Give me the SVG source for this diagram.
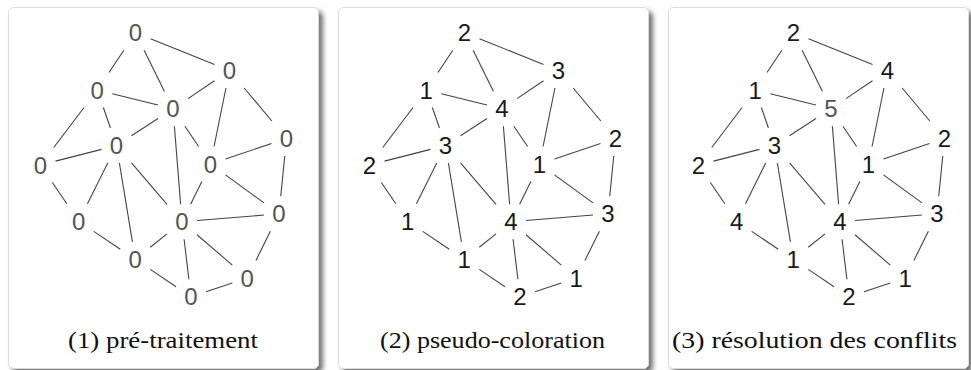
<svg xmlns="http://www.w3.org/2000/svg" width="971" height="370" viewBox="0 0 971 370">
<defs>
<filter id="shadow" x="-5%" y="-5%" width="115%" height="115%">
<feDropShadow dx="4" dy="4" stdDeviation="2.5" flood-color="#000" flood-opacity="0.55"/>
</filter>
<style>
.panel{fill:#fff;stroke:#dcdcdc;stroke-width:1;filter:url(#shadow)}
.edges line{stroke:#444;stroke-width:1.1;stroke-linecap:butt}
.n{font-family:"Liberation Sans",Arial,sans-serif;font-size:24px;text-anchor:middle;fill:#1a1a1a}
.g{fill:#555}
.cap{font-family:"Liberation Serif","Times New Roman",serif;font-size:23px;fill:#111}
</style>
</defs>
<rect width="971" height="370" fill="#fff"/>
<g id="panels">
<rect id="panel1" class="panel" x="8.5" y="7.5" width="310" height="361" rx="5"/>
<rect id="panel2" class="panel" x="338.5" y="7.5" width="310" height="361" rx="5"/>
<rect id="panel3" class="panel" x="668.5" y="7.5" width="300" height="361" rx="5"/>
</g>
<g id="connectors">
<g class="edges" id="edges1">
<line x1="150.5" y1="38.73" x2="214.5" y2="64.47"/>
<line x1="123.83" y1="50.2" x2="108.97" y2="72.5"/>
<line x1="144.12" y1="50.2" x2="164.38" y2="91.3"/>
<line x1="214.5" y1="80.67" x2="188" y2="98.63"/>
<line x1="225.94" y1="88" x2="214.06" y2="146.5"/>
<line x1="244.17" y1="88" x2="271.83" y2="121"/>
<line x1="112.3" y1="93.73" x2="158" y2="105.07"/>
<line x1="103.35" y1="107.5" x2="110.45" y2="128"/>
<line x1="84.05" y1="107.5" x2="53.75" y2="147.5"/>
<line x1="158" y1="118.54" x2="131.5" y2="135.76"/>
<line x1="184.89" y1="126.3" x2="198.61" y2="146.5"/>
<line x1="174.39" y1="126.3" x2="180.61" y2="204.3"/>
<line x1="271.5" y1="143.53" x2="225.5" y2="158.97"/>
<line x1="284.76" y1="156" x2="280.74" y2="196.3"/>
<line x1="101.5" y1="149.35" x2="55.5" y2="161.15"/>
<line x1="107.77" y1="163" x2="87.43" y2="203.8"/>
<line x1="119.39" y1="163" x2="132.41" y2="241.8"/>
<line x1="131.5" y1="162.97" x2="167" y2="204.33"/>
<line x1="52.37" y1="182.5" x2="66.83" y2="203.8"/>
<line x1="201.87" y1="181.5" x2="190.63" y2="204.3"/>
<line x1="225.5" y1="174.9" x2="264" y2="202.9"/>
<line x1="93.7" y1="231.37" x2="120.3" y2="249.23"/>
<line x1="197" y1="220.56" x2="264" y2="215.04"/>
<line x1="167" y1="233.84" x2="150.3" y2="247.26"/>
<line x1="184.1" y1="239.3" x2="188.9" y2="279.3"/>
<line x1="197" y1="234.71" x2="232.3" y2="265.09"/>
<line x1="270.36" y1="231.3" x2="255.94" y2="260.5"/>
<line x1="150.3" y1="269.4" x2="176" y2="286.7"/>
<line x1="206" y1="291.79" x2="232.3" y2="283.01"/>
</g>
<g class="edges" id="edges2" transform="translate(329,0)">
<line x1="150.5" y1="38.73" x2="214.5" y2="64.47"/>
<line x1="123.83" y1="50.2" x2="108.97" y2="72.5"/>
<line x1="144.12" y1="50.2" x2="164.38" y2="91.3"/>
<line x1="214.5" y1="80.67" x2="188" y2="98.63"/>
<line x1="225.94" y1="88" x2="214.06" y2="146.5"/>
<line x1="244.17" y1="88" x2="271.83" y2="121"/>
<line x1="112.3" y1="93.73" x2="158" y2="105.07"/>
<line x1="103.35" y1="107.5" x2="110.45" y2="128"/>
<line x1="84.05" y1="107.5" x2="53.75" y2="147.5"/>
<line x1="158" y1="118.54" x2="131.5" y2="135.76"/>
<line x1="184.89" y1="126.3" x2="198.61" y2="146.5"/>
<line x1="174.39" y1="126.3" x2="180.61" y2="204.3"/>
<line x1="271.5" y1="143.53" x2="225.5" y2="158.97"/>
<line x1="284.76" y1="156" x2="280.74" y2="196.3"/>
<line x1="101.5" y1="149.35" x2="55.5" y2="161.15"/>
<line x1="107.77" y1="163" x2="87.43" y2="203.8"/>
<line x1="119.39" y1="163" x2="132.41" y2="241.8"/>
<line x1="131.5" y1="162.97" x2="167" y2="204.33"/>
<line x1="52.37" y1="182.5" x2="66.83" y2="203.8"/>
<line x1="201.87" y1="181.5" x2="190.63" y2="204.3"/>
<line x1="225.5" y1="174.9" x2="264" y2="202.9"/>
<line x1="93.7" y1="231.37" x2="120.3" y2="249.23"/>
<line x1="197" y1="220.56" x2="264" y2="215.04"/>
<line x1="167" y1="233.84" x2="150.3" y2="247.26"/>
<line x1="184.1" y1="239.3" x2="188.9" y2="279.3"/>
<line x1="197" y1="234.71" x2="232.3" y2="265.09"/>
<line x1="270.36" y1="231.3" x2="255.94" y2="260.5"/>
<line x1="150.3" y1="269.4" x2="176" y2="286.7"/>
<line x1="206" y1="291.79" x2="232.3" y2="283.01"/>
</g>
<g class="edges" id="edges3" transform="translate(658,0)">
<line x1="150.5" y1="38.73" x2="214.5" y2="64.47"/>
<line x1="123.83" y1="50.2" x2="108.97" y2="72.5"/>
<line x1="144.12" y1="50.2" x2="164.38" y2="91.3"/>
<line x1="214.5" y1="80.67" x2="188" y2="98.63"/>
<line x1="225.94" y1="88" x2="214.06" y2="146.5"/>
<line x1="244.17" y1="88" x2="271.83" y2="121"/>
<line x1="112.3" y1="93.73" x2="158" y2="105.07"/>
<line x1="103.35" y1="107.5" x2="110.45" y2="128"/>
<line x1="84.05" y1="107.5" x2="53.75" y2="147.5"/>
<line x1="158" y1="118.54" x2="131.5" y2="135.76"/>
<line x1="184.89" y1="126.3" x2="198.61" y2="146.5"/>
<line x1="174.39" y1="126.3" x2="180.61" y2="204.3"/>
<line x1="271.5" y1="143.53" x2="225.5" y2="158.97"/>
<line x1="284.76" y1="156" x2="280.74" y2="196.3"/>
<line x1="101.5" y1="149.35" x2="55.5" y2="161.15"/>
<line x1="107.77" y1="163" x2="87.43" y2="203.8"/>
<line x1="119.39" y1="163" x2="132.41" y2="241.8"/>
<line x1="131.5" y1="162.97" x2="167" y2="204.33"/>
<line x1="52.37" y1="182.5" x2="66.83" y2="203.8"/>
<line x1="201.87" y1="181.5" x2="190.63" y2="204.3"/>
<line x1="225.5" y1="174.9" x2="264" y2="202.9"/>
<line x1="93.7" y1="231.37" x2="120.3" y2="249.23"/>
<line x1="197" y1="220.56" x2="264" y2="215.04"/>
<line x1="167" y1="233.84" x2="150.3" y2="247.26"/>
<line x1="184.1" y1="239.3" x2="188.9" y2="279.3"/>
<line x1="197" y1="234.71" x2="232.3" y2="265.09"/>
<line x1="270.36" y1="231.3" x2="255.94" y2="260.5"/>
<line x1="150.3" y1="269.4" x2="176" y2="286.7"/>
<line x1="206" y1="291.79" x2="232.3" y2="283.01"/>
</g>
</g>
<g id="nodes1">
<g id="p1-A"><text class="n g" x="135.5" y="41.3">0</text></g>
<g id="p1-B"><text class="n g" x="229.5" y="79.1">0</text></g>
<g id="p1-C"><text class="n g" x="97.3" y="98.6">0</text></g>
<g id="p1-D"><text class="n g" x="173" y="117.4">0</text></g>
<g id="p1-E"><text class="n g" x="286.5" y="147.1">0</text></g>
<g id="p1-F"><text class="n g" x="116.5" y="154.1">0</text></g>
<g id="p1-G"><text class="n g" x="40.5" y="173.6">0</text></g>
<g id="p1-H"><text class="n g" x="210.5" y="172.6">0</text></g>
<g id="p1-I"><text class="n g" x="78.7" y="229.9">0</text></g>
<g id="p1-J"><text class="n g" x="182" y="230.4">0</text></g>
<g id="p1-K"><text class="n g" x="279" y="222.4">0</text></g>
<g id="p1-L"><text class="n g" x="135.3" y="267.9">0</text></g>
<g id="p1-M"><text class="n g" x="247.3" y="286.6">0</text></g>
<g id="p1-N"><text class="n g" x="191" y="305.4">0</text></g>
</g>
<g id="nodes2" transform="translate(329,0)">
<g id="p2-A"><text class="n" x="135.5" y="41.3">2</text></g>
<g id="p2-B"><text class="n" x="229.5" y="79.1">3</text></g>
<g id="p2-C"><text class="n" x="97.3" y="98.6">1</text></g>
<g id="p2-D"><text class="n" x="173" y="117.4">4</text></g>
<g id="p2-E"><text class="n" x="286.5" y="147.1">2</text></g>
<g id="p2-F"><text class="n" x="116.5" y="154.1">3</text></g>
<g id="p2-G"><text class="n" x="40.5" y="173.6">2</text></g>
<g id="p2-H"><text class="n" x="210.5" y="172.6">1</text></g>
<g id="p2-I"><text class="n" x="78.7" y="229.9">1</text></g>
<g id="p2-J"><text class="n" x="182" y="230.4">4</text></g>
<g id="p2-K"><text class="n" x="279" y="222.4">3</text></g>
<g id="p2-L"><text class="n" x="135.3" y="267.9">1</text></g>
<g id="p2-M"><text class="n" x="247.3" y="286.6">1</text></g>
<g id="p2-N"><text class="n" x="191" y="305.4">2</text></g>
</g>
<g id="nodes3" transform="translate(658,0)">
<g id="p3-A"><text class="n" x="135.5" y="41.3">2</text></g>
<g id="p3-B"><text class="n" x="229.5" y="79.1">4</text></g>
<g id="p3-C"><text class="n" x="97.3" y="98.6">1</text></g>
<g id="p3-D"><text class="n g" x="173" y="117.4">5</text></g>
<g id="p3-E"><text class="n" x="286.5" y="147.1">2</text></g>
<g id="p3-F"><text class="n" x="116.5" y="154.1">3</text></g>
<g id="p3-G"><text class="n" x="40.5" y="173.6">2</text></g>
<g id="p3-H"><text class="n" x="210.5" y="172.6">1</text></g>
<g id="p3-I"><text class="n" x="78.7" y="229.9">4</text></g>
<g id="p3-J"><text class="n" x="182" y="230.4">4</text></g>
<g id="p3-K"><text class="n" x="279" y="222.4">3</text></g>
<g id="p3-L"><text class="n" x="135.3" y="267.9">1</text></g>
<g id="p3-M"><text class="n" x="247.3" y="286.6">1</text></g>
<g id="p3-N"><text class="n" x="191" y="305.4">2</text></g>
</g>
<g id="captions">
<text class="cap" x="68" y="348" textLength="190" lengthAdjust="spacingAndGlyphs">(1) pré-traitement</text>
<text class="cap" x="380" y="348" textLength="225" lengthAdjust="spacingAndGlyphs">(2) pseudo-coloration</text>
<text class="cap" x="672" y="348" textLength="285" lengthAdjust="spacingAndGlyphs">(3) résolution des conflits</text>
</g>
</svg>
